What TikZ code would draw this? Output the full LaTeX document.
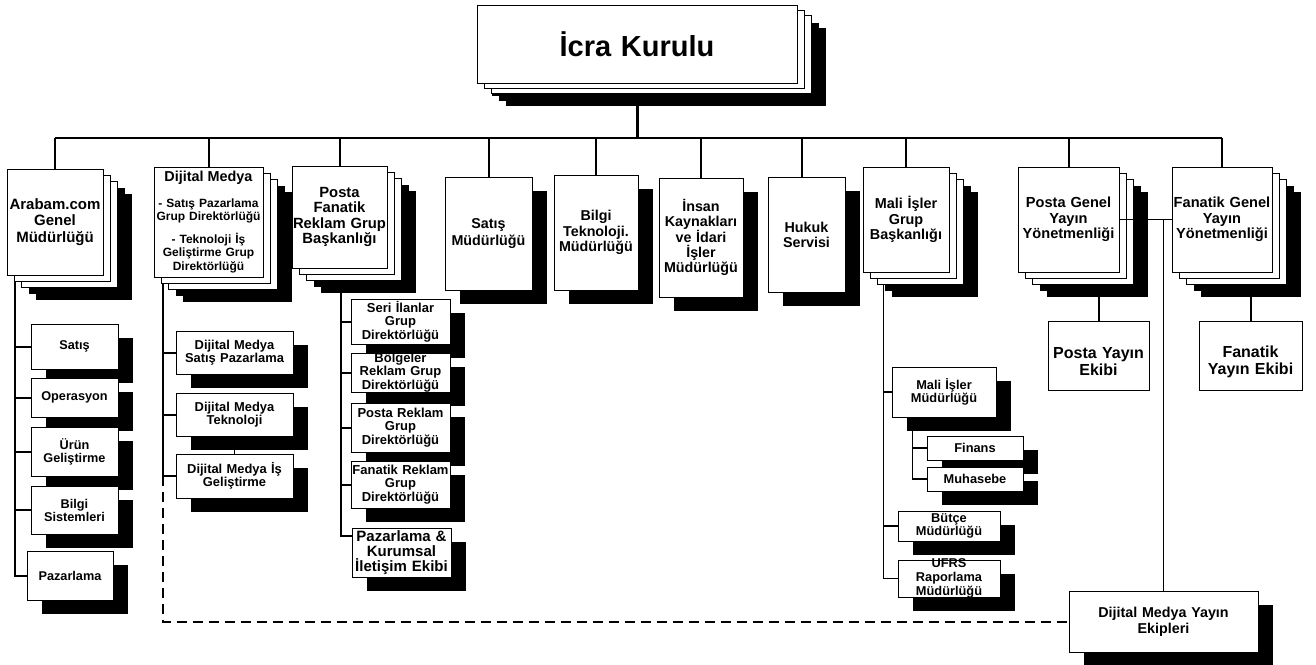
\documentclass[tikz,border=0pt]{standalone}
\usepackage{fontspec}
\setmainfont{Liberation Sans}
\usetikzlibrary{calc,backgrounds}
\newcommand\fsz[2]{\fontsize{#1}{#2}\selectfont}
\tikzset{
  boxshape/.style={draw=black, fill=white, line width=1pt, inner sep=0pt, rectangle},
  pagebox/.style={draw=black, fill=white, line width=1pt},
  shade/.style={fill=black},
  txt/.style={inner sep=0pt, align=center},
  conn/.style={line width=2pt, draw=black},
  thinconn/.style={line width=1.2pt, draw=black},
  dashconn/.style={line width=2pt, draw=black, dash pattern=on 10pt off 6pt},
}
\newcommand\mkbox[5]{%
  \pgfmathsetmacro\mybw{#4-#2}\pgfmathsetmacro\mybh{#5-#3}%
  \node[boxshape, minimum width=\mybw pt, minimum height=\mybh pt] (#1) at ({(#2+#4)/2},{(#3+#5)/2}) {};%
}
\newcommand\mktext[3]{%
  \node[txt, text width=\mybw pt, font=\bfseries#2] (#1t) at (#1.center) {#3};%
}
\newcommand\shbox[7]{%
  \fill[shade] (#2+15,#3+14) rectangle (#4+15,#5+14);
  \mkbox{#1}{#2}{#3}{#4}{#5}\mktext{#1}{#6}{#7}}
\newcommand\plbox[7]{%
  \mkbox{#1}{#2}{#3}{#4}{#5}%
  \node[txt, text width=\mybw pt, font=\bfseries#6] (#1t) at ($(#1.center)+(0,6)$) {#7};}
\newcommand\mdbox[9]{%
  \fill[shade] (#2+15,#3+13) rectangle (#4+15,#5+13);
  \fill[shade] (#2+#6+15,#3+#7+13) rectangle (#4+#6+15,#5+#7+13);
  \fill[shade] (#2+2*#6+15,#3+2*#7+13) rectangle (#4+2*#6+15,#5+2*#7+13);
  \draw[pagebox] (#2+2*#6,#3+2*#7) rectangle (#4+2*#6,#5+2*#7);
  \draw[pagebox] (#2+#6,#3+#7) rectangle (#4+#6,#5+#7);
  \mkbox{#1}{#2}{#3}{#4}{#5}\mktext{#1}{#8}{#9}}
\begin{document}
\begin{tikzpicture}[x=1pt,y=-1pt]
\useasboundingbox (0,0) rectangle (1316,664);
% top
\mdbox{icra}{477}{5}{797}{83}{7}{5}{\fsz{29}{32}}{İcra Kurulu}
% second row
\mdbox{arabam}{7}{169}{103}{275}{7}{6}{\fsz{15}{16.5}}{Arabam.com\\Genel\\Müdürlüğü}
\mdbox{dijital}{154}{167}{263}{277}{7}{6}{\fsz{12}{13.5}}{{\fsz{14.4}{16}Dijital Medya}\\[12pt]- Satış Pazarlama\\Grup Direktörlüğü\\[9pt]- Teknoloji İş\\Geliştirme Grup\\Direktörlüğü}
\mdbox{pfr}{292}{166}{387}{268}{7}{6}{\fsz{14.8}{15.5}}{Posta\\Fanatik\\Reklam Grup\\Başkanlığı}
\shbox{satis}{445}{177}{532}{290}{\fsz{14.3}{17}}{Satış\\Müdürlüğü}
\shbox{bilgi}{554}{175}{638}{290}{\fsz{14.3}{15.5}}{Bilgi\\Teknoloji.\\Müdürlüğü}
\shbox{insan}{659}{178}{743}{297}{\fsz{14.3}{15}}{İnsan\\Kaynakları\\ve İdari\\İşler\\Müdürlüğü}
\shbox{hukuk}{768}{177}{845}{292}{\fsz{14.3}{15}}{Hukuk\\Servisi}
\mdbox{mali}{863}{167}{949}{272}{7}{6}{\fsz{14.4}{15.5}}{Mali İşler\\Grup\\Başkanlığı}
\mdbox{pg}{1018}{167}{1119}{272}{7}{6}{\fsz{14.6}{15.5}}{Posta Genel\\Yayın\\Yönetmenliği}
\mdbox{fg}{1172}{167}{1272}{272}{7}{6}{\fsz{14.6}{15.5}}{Fanatik Genel\\Yayın\\Yönetmenliği}
\plbox{pye}{1048}{321}{1149}{390}{\fsz{16}{17}}{Posta Yayın\\Ekibi}
\plbox{fye}{1199}{321}{1302}{390}{\fsz{16}{17}}{Fanatik\\Yayın Ekibi}
% left column
\shbox{lsatis}{31}{324}{118}{369}{\fsz{12.7}{13}}{Satış}
\shbox{lop}{31}{378}{118}{417}{\fsz{12.7}{13}}{Operasyon}
\shbox{lurun}{31}{427}{118}{476}{\fsz{12.7}{13}}{Ürün\\Geliştirme}
\shbox{lbilgi}{31}{486}{118}{534}{\fsz{12.7}{13}}{Bilgi\\Sistemleri}
\shbox{lpaz}{27}{551}{113}{600}{\fsz{12.7}{13}}{Pazarlama}
% dijital column
\shbox{dmsp}{176}{331}{293}{374}{\fsz{12.9}{13}}{Dijital Medya\\Satış Pazarlama}
\shbox{dmt}{176}{393}{293}{436}{\fsz{12.9}{13}}{Dijital Medya\\Teknoloji}
\shbox{dmig}{176}{454}{293}{498}{\fsz{12.9}{13}}{Dijital Medya İş\\Geliştirme}
% posta fanatik column
\shbox{seri}{351}{299}{450}{344}{\fsz{13}{13.5}}{Seri İlanlar\\Grup\\Direktörlüğü}
\shbox{bolge}{351}{353}{450}{392}{\fsz{13}{13.5}}{Bölgeler\\Reklam Grup\\Direktörlüğü}
\shbox{prg}{351}{403}{450}{452}{\fsz{13}{13.5}}{Posta Reklam\\Grup\\Direktörlüğü}
\shbox{frg}{351}{461}{450}{508}{\fsz{13}{13.5}}{Fanatik Reklam\\Grup\\Direktörlüğü}
\shbox{pk}{352}{528}{451}{577}{\fsz{15}{15}}{Pazarlama \&\\Kurumsal\\İletişim Ekibi}
% mali column
\shbox{mim}{892}{367}{996}{417}{\fsz{12.8}{12.5}}{Mali İşler\\Müdürlüğü}
\shbox{finans}{927}{436}{1023}{460}{\fsz{12.8}{12.5}}{Finans}
\shbox{muh}{927}{467}{1023}{491}{\fsz{12.8}{12.5}}{Muhasebe}
\shbox{butce}{898}{511}{1000}{541}{\fsz{12.8}{12.5}}{Bütçe\\Müdürlüğü}
\shbox{ufrs}{898}{560}{1000}{597}{\fsz{12.8}{14}}{UFRS\\Raporlama\\Müdürlüğü}
% digital yayin
\shbox{dmye}{1069}{591}{1258}{652}{\fsz{14.3}{16}}{Dijital Medya Yayın\\Ekipleri}

\begin{scope}[on background layer]
\fill[white] (0,0) rectangle (1316,664);
\coordinate (bus) at (637,138);
\draw[line width=3pt] (icra.south) -- (icra.south |- bus);
\draw[conn] (arabam.north |- bus) -- (fg.north |- bus);
\foreach \nm in {arabam,dijital,pfr,satis,bilgi,insan,mali,pg,fg}
  \draw[conn] (\nm.north) -- (\nm.north |- bus);
\draw[conn] ($(hukuk.north)+(-5,0)$) -- ($(hukuk.north |- bus)+(-5,0)$);
% left column
\coordinate (lc) at ($(arabam.south west)+(8,0)$);
\draw[conn] (lc) |- (lpaz.west);
\foreach \nm in {lsatis,lop,lurun,lbilgi}
  \draw[conn] (lc |- \nm.west) -- (\nm.west);
% dijital column
\coordinate (dc) at ($(dijital.south west)+(9,0)$);
\draw[conn] (dc) |- (dmig.west);
\foreach \nm in {dmsp,dmt}
  \draw[conn] (dc |- \nm.west) -- (\nm.west);
\draw[thinconn] (dmt.south) -- (dmig.north);
\draw[dashconn] (dc |- dmig.west) |- (dmye.west);
% posta fanatik column
\coordinate (pc) at ($(pfr.south)+(1,0)$);
\coordinate (pkin) at ($(pk.north west)+(0,8)$);
\draw[conn] (pc) |- (pkin);
\foreach \nm in {seri,bolge,prg,frg}
  \draw[conn] (pc |- \nm.west) -- (\nm.west);
% mali column
\coordinate (mc) at ($(mali.south west)+(21,0)$);
\draw[thinconn] (mc) |- (ufrs.west);
\foreach \nm in {mim,butce}
  \draw[thinconn] (mc |- \nm.west) -- (\nm.west);
\coordinate (mc2) at ($(mim.south west)+(21,0)$);
\draw[thinconn] (mc2) |- (muh.west);
\draw[thinconn] (mc2 |- finans.west) -- (finans.west);
% yayin ekipleri
\draw[conn] (pye.north) -- (pye.north |- pg.south);
\draw[conn] (fye.north) -- (fye.north |- fg.south);
\end{scope}
\draw[thinconn] (pg.east) -- (fg.west);
\draw[thinconn] (dmye.north |- pg.east) -- (dmye.north);
\end{tikzpicture}
\end{document}
